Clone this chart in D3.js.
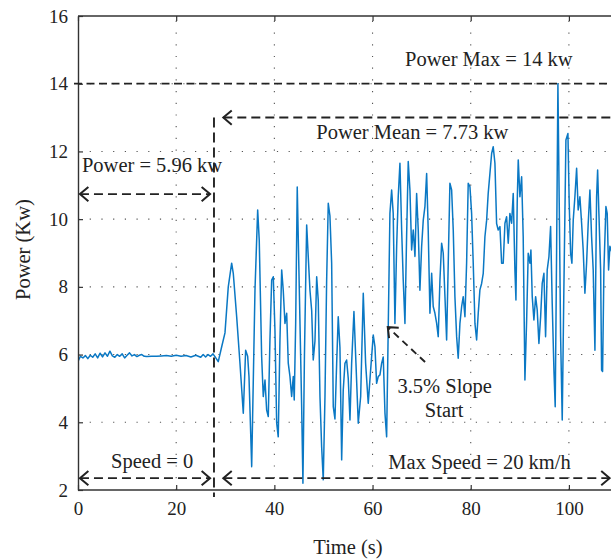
<!DOCTYPE html>
<html lang="en">
<head>
<meta charset="UTF-8">
<title>Power vs Time</title>
<style>
  body { margin: 0; background: #fff; }
  svg { display: block; font-family: "Liberation Serif", "DejaVu Serif", serif; }
</style>
</head>
<body>
<svg></svg>
<script src="https://d3js.org/d3.v7.min.js"></script>
<script>
// idle phase (speed = 0), [time s, power kW]
const idleSamples = [
  [0, 5.80], [0.5, 5.95], [1, 5.90], [1.5, 5.97], [2, 5.88], [2.5, 5.98], [3, 5.92], [3.5, 6.02],
  [4, 5.90], [4.5, 6.04], [5, 5.93], [5.5, 6.05], [6, 5.95], [6.5, 6.10], [7, 5.96], [7.5, 5.92],
  [8, 6.00], [8.5, 5.95], [9, 6.02], [9.5, 5.90], [10, 5.98], [10.5, 6.05], [11, 5.96], [11.5, 6.00],
  [12, 5.94], [12.5, 5.98], [13, 6.00], [13.5, 5.95], [14, 5.94], [15, 5.95], [16, 5.95], [17, 5.96],
  [18, 5.97], [19, 5.95], [20, 5.98], [21, 5.95], [22, 5.97], [23, 5.93], [24, 5.98], [25, 5.92],
  [25.5, 6.00], [26, 5.93], [26.5, 6.00], [27, 5.95], [27.5, 6.02], [27.9, 5.94]
];

// driving phase, [time s, power kW]
const driveSamples = [
  [28.57, 5.79], [29.27, 6.23], [29.94, 6.64], [30.61, 8.0], [31.30, 8.7], [31.63, 8.4], [32.32, 7.12],
  [32.99, 5.75], [33.67, 4.27], [34.15, 6.13], [34.56, 5.95], [34.83, 5.35], [35.38, 2.69], [36.05, 7.9],
  [36.60, 10.27], [36.92, 9.38], [37.41, 5.94], [37.74, 4.76], [38.09, 5.25], [38.43, 4.36], [38.76, 4.17],
  [39.10, 6.43], [39.45, 8.2], [39.78, 8.3], [40.12, 6.72], [40.47, 3.98], [40.79, 3.57], [41.14, 6.43],
  [41.49, 8.5], [41.81, 7.9], [42.16, 6.92], [42.51, 7.22], [42.83, 5.75], [43.18, 5.35], [43.52, 4.76],
  [43.85, 5.35], [44.05, 4.66], [44.34, 6.92], [44.66, 10.95], [45.07, 8.0], [45.56, 4.46], [45.82, 2.2],
  [46.13, 6.0], [46.58, 9.83], [46.90, 8.9], [47.25, 7.9], [47.60, 7.3], [47.92, 5.84], [48.27, 6.4],
  [48.62, 8.3], [48.94, 7.6], [49.29, 4.76], [49.63, 3.28], [49.96, 2.3], [50.31, 4.76], [50.65, 8.2],
  [50.98, 10.47], [51.32, 10.1], [51.67, 8.7], [52.00, 4.46], [52.34, 4.1], [52.69, 5.74], [53.01, 7.12],
  [53.36, 6.2], [53.71, 2.89], [54.03, 4.95], [54.38, 5.74], [54.72, 5.84], [55.05, 5.3], [55.40, 4.07],
  [55.74, 5.74], [56.21, 7.27], [56.62, 5.74], [57.09, 3.97], [57.58, 4.76], [58.11, 7.81], [58.59, 5.74],
  [59.12, 4.56], [59.61, 5.54], [60.14, 6.58], [60.49, 6.23], [60.83, 5.15], [61.16, 5.35], [61.51, 5.4],
  [61.85, 5.74], [62.18, 5.93], [62.53, 4.27], [62.87, 3.57], [63.20, 6.82], [63.54, 10.17], [63.89, 10.86],
  [64.21, 10.17], [64.56, 6.92], [64.91, 9.19], [65.23, 10.66], [65.58, 11.65], [65.93, 9.68], [66.25, 8.2],
  [66.60, 6.92], [66.94, 9.5], [67.27, 11.7], [67.62, 10.85], [67.96, 9.09], [68.29, 9.68], [68.64, 8.9],
  [68.98, 10.76], [69.31, 9.68], [69.65, 7.9], [70.00, 9.19], [70.33, 9.97], [70.67, 10.37], [71.02, 11.35],
  [71.34, 9.68], [71.69, 7.22], [72.04, 8.4], [72.36, 7.42], [72.71, 7.22], [73.06, 6.92], [73.38, 6.53],
  [73.73, 8.2], [74.07, 9.29], [74.40, 9.0], [74.75, 7.71], [75.09, 6.43], [75.42, 8.7], [75.76, 11.06],
  [76.11, 10.86], [76.44, 9.68], [76.78, 7.71], [77.13, 6.53], [77.45, 5.89], [77.80, 6.92], [78.15, 7.42],
  [78.47, 7.71], [78.82, 7.12], [79.16, 8.7], [79.49, 11.06], [79.84, 10.96], [80.18, 10.17], [80.51, 8.7],
  [80.86, 6.92], [81.20, 6.43], [81.53, 7.22], [81.87, 7.91], [82.22, 8.1], [82.55, 8.4], [82.89, 9.48],
  [83.24, 9.97], [83.56, 10.76], [84.26, 11.94], [84.58, 12.14], [84.93, 11.65], [85.27, 9.87], [85.60, 9.68],
  [85.95, 9.78], [86.29, 8.7], [86.62, 8.7], [86.97, 9.88], [87.31, 10.07], [87.64, 9.29], [87.98, 10.17],
  [88.33, 9.88], [88.66, 10.76], [89.00, 8.5], [89.21, 7.61], [89.47, 10.5], [89.68, 11.75], [90.02, 10.66],
  [90.37, 11.25], [90.69, 9.48], [91.04, 5.25], [91.39, 7.02], [91.71, 8.99], [92.06, 8.7], [92.26, 9.09],
  [92.53, 7.71], [92.87, 7.02], [93.22, 7.71], [93.54, 7.32], [93.89, 6.33], [94.24, 7.12], [94.56, 8.1],
  [94.91, 8.4], [95.25, 6.53], [95.58, 8.5], [95.93, 8.89], [96.27, 9.78], [96.60, 7.51], [96.95, 5.54],
  [97.21, 4.46], [97.49, 9.0], [97.76, 14.0], [98.03, 10.47], [98.31, 6.53], [98.64, 4.07], [98.98, 8.0],
  [99.39, 12.34], [99.80, 12.53], [100.06, 10.47], [100.35, 8.99], [100.61, 8.7], [100.88, 9.97], [101.22, 10.66],
  [101.57, 11.5], [101.89, 10.27], [102.24, 10.66], [102.59, 9.87], [102.91, 9.09], [103.26, 7.81], [103.60, 8.7],
  [103.93, 9.87], [104.28, 10.86], [104.62, 9.48], [104.95, 8.5], [105.30, 6.13], [105.64, 10.66], [105.85, 11.45],
  [106.11, 10.17], [106.46, 8.5], [106.66, 5.54], [106.86, 5.5], [107.13, 8.5], [107.54, 10.37], [107.80, 10.17],
  [108.08, 8.5], [108.35, 9.2], [108.8, 9.0]
];

const xTicks = [0, 20, 40, 60, 80, 100];
const yTicks = [2, 4, 6, 8, 10, 12, 14, 16];

// annotation values (data units)
const speedStep = 27.7;      // time where the vehicle starts moving
const powerMax = 14;
const meanLineLevel = 13;
const idleArrowLevel = 10.74;
const speedArrowLevel = 2.35;

const labels = [
  { text: "Power Max = 14 kw", t: 83.7, v: 14.52, anchor: "middle" },
  { text: "Power Mean = 7.73 kw", t: 68.1, v: 12.37, anchor: "middle" },
  { text: "Power = 5.96 kw", t: 0.8, v: 11.39, anchor: "start" },
  { text: "Speed = 0", t: 15.1, v: 2.65, anchor: "middle" },
  { text: "Max Speed = 20 km/h", t: 81.8, v: 2.62, anchor: "middle" },
  { text: "3.5% Slope", t: 74.7, v: 4.86, anchor: "middle" },
  { text: "Start", t: 74.6, v: 4.16, anchor: "middle" }
];

const width = 611, height = 560;
const margin = { left: 78, top: 16, bottom: 70 };
const ink = "#222";

const x = d3.scaleLinear().domain([0, 110]).range([margin.left, 618]);
const y = d3.scaleLinear().domain([2, 16]).range([height - margin.bottom, margin.top]);

const svg = d3.select("svg").attr("width", width).attr("height", height);

svg.append("defs").append("clipPath").attr("id", "plot")
  .append("rect")
  .attr("x", x(0)).attr("y", y(16))
  .attr("width", x(110) - x(0)).attr("height", y(2) - y(16));

// dotted grid
const grid = svg.append("g").attr("stroke", "#555").attr("stroke-width", 1.1)
  .attr("stroke-dasharray", "1.2,10.5");
grid.selectAll("line.gx").data(xTicks.slice(1)).join("line")
  .attr("x1", d => x(d)).attr("x2", d => x(d))
  .attr("y1", y(2)).attr("y2", y(16));
grid.selectAll("line.gy").data(yTicks.slice(1, -1)).join("line")
  .attr("x1", x(0)).attr("x2", width)
  .attr("y1", d => y(d)).attr("y2", d => y(d));

// signal
const line = d3.line().x(d => x(d[0])).y(d => y(d[1]));
svg.append("path")
  .datum(idleSamples.concat(driveSamples))
  .attr("clip-path", "url(#plot)")
  .attr("fill", "none")
  .attr("stroke", "#0a78c4")
  .attr("stroke-width", 1.5)
  .attr("stroke-linejoin", "round")
  .attr("d", line);

// axes (MATLAB-ish box, ticks inward)
const xAxis = svg.append("g").attr("transform", `translate(0,${y(2)})`)
  .call(d3.axisBottom(x).tickValues(xTicks).tickSizeInner(-5).tickSizeOuter(0).tickPadding(12));
const yAxis = svg.append("g").attr("transform", `translate(${x(0)},0)`)
  .call(d3.axisLeft(y).tickValues(yTicks).tickSizeInner(-5).tickSizeOuter(0).tickPadding(10));
const xTop = svg.append("g").attr("transform", `translate(0,${y(16)})`)
  .call(d3.axisTop(x).tickValues(xTicks).tickSizeInner(-5).tickSizeOuter(0).tickFormat(""));

[xAxis, yAxis, xTop].forEach(g => {
  g.select(".domain").attr("stroke", "#333").attr("stroke-width", 1.4);
  g.selectAll(".tick line").attr("stroke", "#333").attr("stroke-width", 1.2);
  g.selectAll(".tick text").attr("fill", ink).attr("font-size", 19)
    .attr("font-family", "Liberation Serif, serif");
});
xTop.select(".domain").attr("d", `M${x(0)},0H${width}`);
xAxis.select(".domain").attr("d", `M${x(0)},0H${width}`);

// annotations
const ann = svg.append("g").attr("stroke", ink).attr("fill", "none").attr("stroke-linecap", "butt");

function head(px, py, dir) {
  // open chevron at (px,py) pointing along angle dir (radians)
  const len = 11, spread = 0.7;
  const a1 = dir + Math.PI - spread, a2 = dir + Math.PI + spread;
  return `M${px + len * Math.cos(a1)},${py + len * Math.sin(a1)}L${px},${py}L${px + len * Math.cos(a2)},${py + len * Math.sin(a2)}`;
}

function arrow(t1, v1, t2, v2, startHead, endHead, dash) {
  const x1 = x(t1), y1 = y(v1), x2 = x(t2), y2 = y(v2);
  ann.append("line").attr("x1", x1).attr("y1", y1).attr("x2", x2).attr("y2", y2)
    .attr("stroke-width", 1.9).attr("stroke-dasharray", dash || "9,5");
  const dir = Math.atan2(y2 - y1, x2 - x1);
  if (endHead) ann.append("path").attr("d", head(x2, y2, dir)).attr("stroke-width", 2);
  if (startHead) ann.append("path").attr("d", head(x1, y1, dir + Math.PI)).attr("stroke-width", 2);
}

// power max line
ann.append("line")
  .attr("x1", x(0) - 4).attr("x2", width)
  .attr("y1", y(powerMax)).attr("y2", y(powerMax))
  .attr("stroke-width", 1.8).attr("stroke-dasharray", "8,4.5");

// speed step vertical line
ann.append("line")
  .attr("x1", x(speedStep)).attr("x2", x(speedStep))
  .attr("y1", y(meanLineLevel)).attr("y2", y(2) + 7)
  .attr("stroke-width", 1.9).attr("stroke-dasharray", "10,5");

arrow(29.6, meanLineLevel, 111, meanLineLevel, true, false);
arrow(0.4, idleArrowLevel, 26.9, idleArrowLevel, true, true);
arrow(0.4, speedArrowLevel, 26.9, speedArrowLevel, true, true);
arrow(29.6, speedArrowLevel, 108.3, speedArrowLevel, true, true);
arrow(70.7, 5.78, 63.1, 6.81, false, true, "7,5");

svg.append("g").selectAll("text").data(labels).join("text")
  .attr("x", d => x(d.t)).attr("y", d => y(d.v))
  .attr("text-anchor", d => d.anchor)
  .attr("font-size", 20.5).attr("fill", ink)
  .text(d => d.text);

// axis titles
svg.append("text")
  .attr("x", 348).attr("y", 554)
  .attr("text-anchor", "middle").attr("font-size", 20.5).attr("fill", ink)
  .text("Time (s)");
svg.append("text")
  .attr("transform", `translate(30,${y(9.1)}) rotate(-90)`)
  .attr("text-anchor", "middle").attr("font-size", 20.5).attr("fill", ink)
  .text("Power (Kw)");
</script>
</body>
</html>
